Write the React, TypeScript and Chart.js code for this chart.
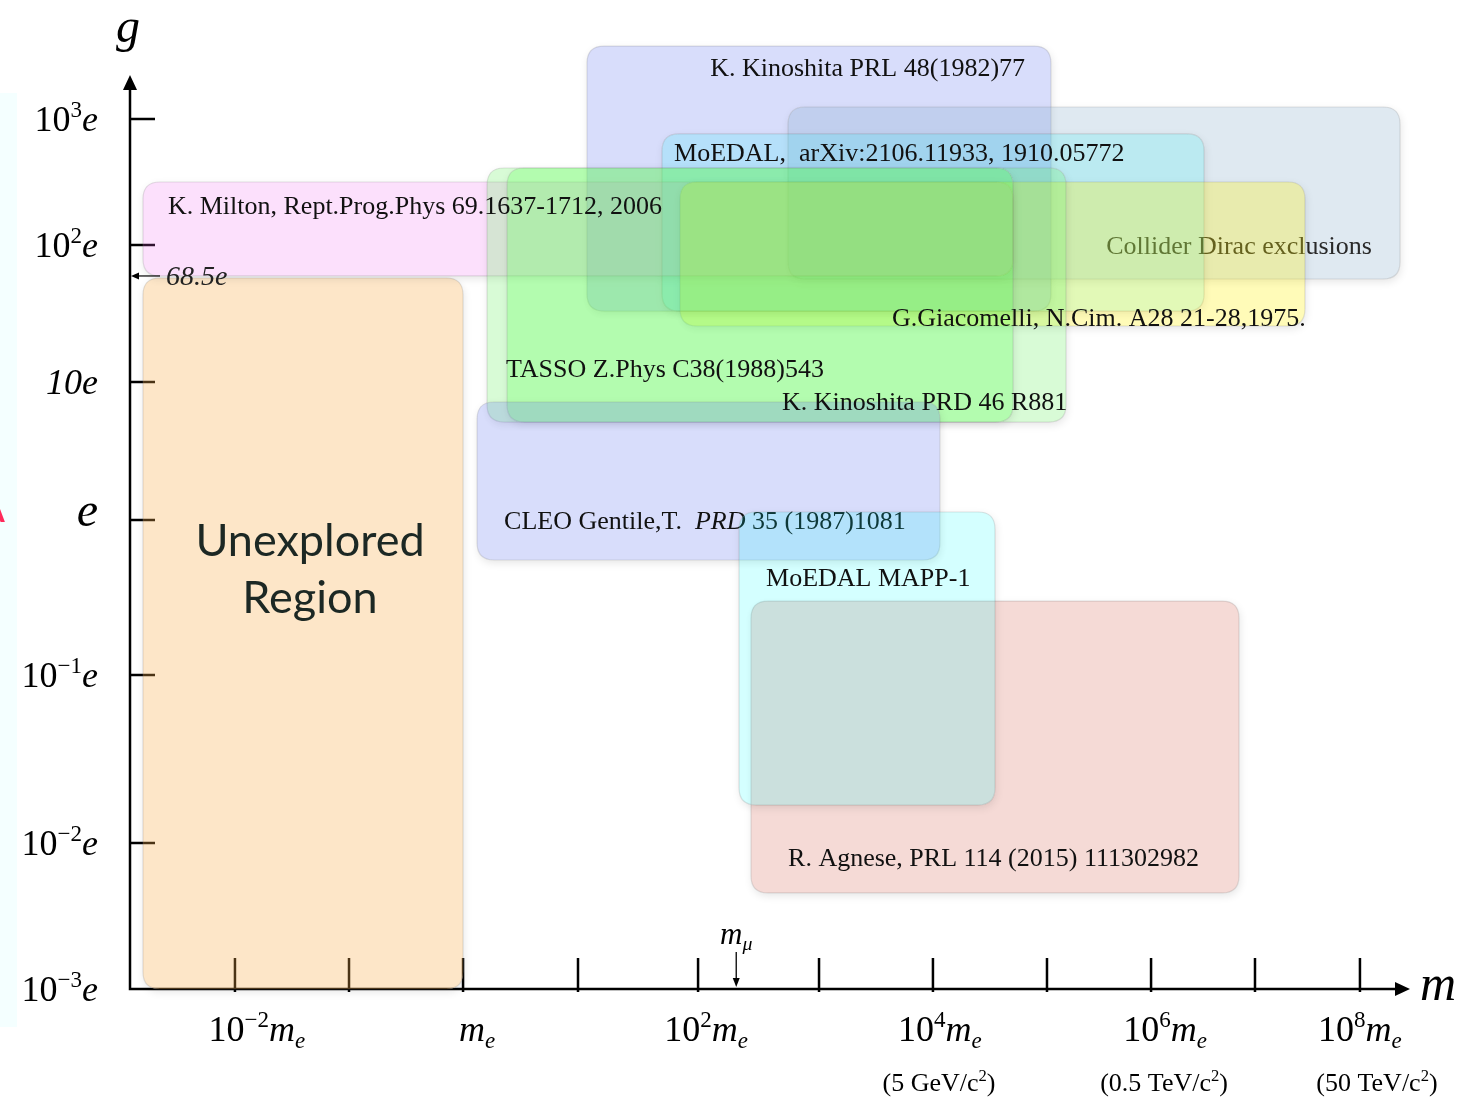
import React, { useEffect, useRef } from 'react';
import { Chart, LinearScale, registerables } from 'chart.js';

// ---------------- data ----------------
// x: log10(m / m_e), y: log10(g / e)
const X_TICK_VALUES = [-2, -1, 0, 1, 2, 3, 4, 5, 6, 7, 8];
const X_LABEL_VALUES = [-2, 0, 2, 4, 6, 8];
const X_LABEL_POS = [-1.807, 0.122, 2.066, 4.061, 6.135, 8.0];
const X_LABELS = ['10^{−2}*m*_{*e*}', '*m*_{*e*}', '10^{2}*m*_{*e*}', '10^{4}*m*_{*e*}', '10^{6}*m*_{*e*}', '10^{8}*m*_{*e*}'];
const X_SUBLABELS = ['', '', '', '(5 GeV/c^{2})', '(0.5 TeV/c^{2})', '(50 TeV/c^{2})'];
const X_SUBLABEL_POS = [-1.807, 0.122, 2.066, 4.053, 6.125, 8.162];

const Y_TICK_VALUES = [3, 2, 1, 0, -1, -2];
const Y_LABEL_VALUES = [3, 2, 1, 0, -1, -2, -3];
const Y_LABELS = ['10^{3}*e*', '10^{2}*e*', '*10e*', '*e*', '10^{−1}*e*', '10^{−2}*e*', '10^{−3}*e*'];

const M_MU = 2.3155; // log10(m_mu / m_e)
const M_MU_LABEL = '*m*_{*μ*}';
const G_MARK = 1.774;
const G_MARK_LABEL = '*68.5e*';

// experiment regions (draw order)
const BOX_NAMES = ['Unexplored', 'Kinoshita PRL', 'Collider', 'MoEDAL arXiv', 'Milton', 'Giacomelli', 'Kinoshita PRD', 'TASSO', 'CLEO', 'Agnese', 'MAPP-1'];
const BOX_X_MIN = [-2.807, 1.075, 2.744, 1.70, -2.807, 1.85, 0.209, 0.383, 0.122, 2.438, 2.339];
const BOX_X_MAX = [0.0, 5.038, 8.381, 6.51, 4.702, 7.476, 5.183, 4.702, 4.061, 6.846, 4.544];
const BOX_Y_MIN = [-3.0, 1.518, 1.752, 1.518, 1.774, 1.409, 0.710, 0.710, -0.258, -2.342, -1.774];
const BOX_Y_MAX = [1.759, 3.579, 3.095, 2.881, 2.5, 2.5, 2.611, 2.611, 0.855, -0.523, 0.058];
const BOX_COLORS = [
  'rgba(248,172,72,0.30)',
  'rgba(100,120,240,0.25)',
  'rgba(128,168,200,0.25)',
  'rgba(0,235,245,0.16)',
  'rgba(240,100,240,0.20)',
  'rgba(255,240,0,0.28)',
  'rgba(100,240,90,0.25)',
  'rgba(70,255,60,0.25)',
  'rgba(100,120,240,0.25)',
  'rgba(215,107,91,0.25)',
  'rgba(0,255,255,0.17)',
];
const LABEL_TEXTS = [
  'Unexplored\nRegion',
  'K. Kinoshita PRL 48(1982)77',
  'Collider Dirac exclusions',
  'MoEDAL,  arXiv:2106.11933, 1910.05772',
  'K. Milton, Rept.Prog.Phys 69.1637-1712, 2006',
  'G.Giacomelli, N.Cim. A28 21-28,1975.',
  'K. Kinoshita PRD 46 R881',
  'TASSO Z.Phys C38(1988)543',
  'CLEO Gentile,T.  *PRD* 35 (1987)1081',
  'R. Agnese, PRL 114 (2015) 111302982',
  'MoEDAL MAPP-1',
];
const LABEL_X = [-1.342, 2.10, 8.114, 1.80, -2.588, 3.64, 2.694, 0.374, 0.357, 2.744, 2.562];
const LABEL_Y = [-0.323, 3.405, 1.993, 2.730, 2.317, 1.474, 0.862, 1.095, -0.006, -2.096, -0.368];
const LABEL_ALIGN = ['center', 'left', 'right', 'left', 'left', 'left', 'left', 'left', 'left', 'left', 'left'];
// labels that sit beneath the boxes drawn after them (others are drawn on top of everything)
const LABELS_UNDER = ['Collider', 'CLEO'];

// schematic axis layout: [value, fraction of axis length]
const X_BREAKS = [[-2.921, 0], [-2, 0.082], [-1, 0.1711], [0, 0.2602], [1, 0.35], [2, 0.4438], [3, 0.5383], [4, 0.6273], [5, 0.7164], [6, 0.7977], [7, 0.8789], [8, 0.9609], [8.476, 1]];
const Y_BREAKS = [[-3, 0], [-2, 0.1597], [-1, 0.3435], [0, 0.5131], [1, 0.6641], [2, 0.814], [3, 0.9519], [3.349, 1]];
const BREAKS: Record<string, number[][]> = { x: X_BREAKS, y: Y_BREAKS };

// ---------------- scale ----------------
function interp(bp: number[][], v: number, from: number, to: number) {
  let i = 0;
  if (v <= bp[0][from]) i = 0;
  else if (v >= bp[bp.length - 1][from]) i = bp.length - 2;
  else {
    while (i < bp.length - 2 && v > bp[i + 1][from]) i++;
  }
  const a = bp[i];
  const b = bp[i + 1];
  return a[to] + ((v - a[from]) * (b[to] - a[to])) / (b[from] - a[from]);
}

class PiecewiseScale extends LinearScale {
  static id = 'piecewise';
  static defaults = {};
  getPixelForValue(value: number) {
    return this.getPixelForDecimal(interp(BREAKS[(this as any).id], value, 0, 1));
  }
  getValueForPixel(pixel: number) {
    return interp(BREAKS[(this as any).id], this.getDecimalForPixel(pixel), 1, 0);
  }
}

Chart.register(...registerables, PiecewiseScale as any);

// ---------------- drawing helpers ----------------
const SERIF = '"Liberation Serif", "Times New Roman", serif';

type Part = { t: string; italic: boolean; mode: 'n' | 'sup' | 'sub' };
function parseRich(s: string): Part[] {
  const parts: Part[] = [];
  let italic = false;
  let mode: Part['mode'] = 'n';
  let buf = '';
  const flush = () => {
    if (buf) {
      parts.push({ t: buf, italic, mode });
      buf = '';
    }
  };
  for (let i = 0; i < s.length; i++) {
    const c = s[i];
    if (c === '*') {
      flush();
      italic = !italic;
    } else if ((c === '^' || c === '_') && s[i + 1] === '{') {
      flush();
      mode = c === '^' ? 'sup' : 'sub';
      i++;
    } else if (c === '}' && mode !== 'n') {
      flush();
      mode = 'n';
    } else buf += c;
  }
  flush();
  return parts;
}

function drawRich(ctx: CanvasRenderingContext2D, s: string, x: number, baseline: number, size: number, align: string, color: string, family = SERIF) {
  const parts = parseRich(s);
  const small = size * 0.64;
  const font = (p: Part) => `${p.italic ? 'italic ' : ''}${p.mode === 'n' ? size : small}px ${family}`;
  let total = 0;
  const widths = parts.map((p) => {
    ctx.font = font(p);
    const w = ctx.measureText(p.t).width;
    total += w;
    return w;
  });
  let cx = align === 'center' ? x - total / 2 : align === 'right' ? x - total : x;
  ctx.fillStyle = color;
  ctx.textAlign = 'left';
  ctx.textBaseline = 'alphabetic';
  parts.forEach((p, i) => {
    ctx.font = font(p);
    const dy = p.mode === 'sup' ? -size * 0.4 : p.mode === 'sub' ? size * 0.2 : 0;
    ctx.fillText(p.t, cx, baseline + dy);
    cx += widths[i];
  });
}

function roundRectPath(ctx: CanvasRenderingContext2D, x0: number, y0: number, x1: number, y1: number, r: number) {
  const l = Math.min(x0, x1), rt = Math.max(x0, x1), t = Math.min(y0, y1), b = Math.max(y0, y1);
  ctx.moveTo(l + r, t);
  ctx.lineTo(rt - r, t);
  ctx.quadraticCurveTo(rt, t, rt, t + r);
  ctx.lineTo(rt, b - r);
  ctx.quadraticCurveTo(rt, b, rt - r, b);
  ctx.lineTo(l + r, b);
  ctx.quadraticCurveTo(l, b, l, b - r);
  ctx.lineTo(l, t + r);
  ctx.quadraticCurveTo(l, t, l + r, t);
  ctx.closePath();
}

function arrowHead(ctx: CanvasRenderingContext2D, tx: number, ty: number, dx: number, dy: number, len: number, half: number) {
  const bx = tx - dx * len, by = ty - dy * len;
  ctx.beginPath();
  ctx.moveTo(tx, ty);
  ctx.lineTo(bx - dy * half, by + dx * half);
  ctx.lineTo(bx + dy * half, by - dx * half);
  ctx.closePath();
  ctx.fill();
}

const diagramPlugin = {
  id: 'diagram',
  afterDraw(chart: any) {
    const { ctx, chartArea: ca, width: W, height: H } = chart;
    const xs = chart.scales.x;
    const ys = chart.scales.y;
    ctx.save();

    // axes
    ctx.strokeStyle = '#000';
    ctx.fillStyle = '#000';
    ctx.lineWidth = 2.5;
    ctx.lineCap = 'butt';
    ctx.beginPath();
    ctx.moveTo(ca.left, ca.bottom + 1.25);
    ctx.lineTo(ca.left, ca.top + 12);
    ctx.moveTo(ca.left - 1.25, ca.bottom);
    ctx.lineTo(ca.right - 12, ca.bottom);
    ctx.stroke();
    arrowHead(ctx, ca.left, ca.top, 0, -1, 15, 7);
    arrowHead(ctx, ca.right, ca.bottom, 1, 0, 15, 7);

    ctx.beginPath();
    Y_TICK_VALUES.forEach((v) => {
      const py = ys.getPixelForValue(v);
      ctx.moveTo(ca.left, py);
      ctx.lineTo(ca.left + 25, py);
    });
    X_TICK_VALUES.forEach((v) => {
      const px = xs.getPixelForValue(v);
      ctx.moveTo(px, ca.bottom + 3);
      ctx.lineTo(px, ca.bottom - 31);
    });
    ctx.stroke();

    // tick labels
    Y_LABEL_VALUES.forEach((v, i) => {
      const py = ys.getPixelForValue(v);
      const big = Y_LABELS[i] === '*e*';
      drawRich(ctx, Y_LABELS[i], ca.left - 32, py + (big ? 6 : 12), big ? 48 : 36, 'right', '#000');
    });
    X_LABEL_VALUES.forEach((v, i) => {
      drawRich(ctx, X_LABELS[i], xs.getPixelForValue(X_LABEL_POS[i]), ca.bottom + 52, 36, 'center', '#000');
      if (X_SUBLABELS[i]) drawRich(ctx, X_SUBLABELS[i], xs.getPixelForValue(X_SUBLABEL_POS[i]), ca.bottom + 102, 26, 'center', '#000');
    });

    // axis titles
    drawRich(ctx, '*g*', ca.left - 2, ca.top - 33, 48, 'center', '#000');
    drawRich(ctx, '*m*', ca.right + 10, ca.bottom + 11, 50, 'left', '#000');

    const drawLabel = (i: number) => {
      const name = BOX_NAMES[i];
      const lx = xs.getPixelForValue(LABEL_X[i]);
      const ly = ys.getPixelForValue(LABEL_Y[i]);
      if (name === 'Unexplored') {
        const lines = LABEL_TEXTS[i].split('\n');
        ctx.font = '45px Lato, "Open Sans", sans-serif';
        ctx.fillStyle = '#1c2824';
        ctx.textAlign = 'center';
        ctx.textBaseline = 'middle';
        lines.forEach((ln, k) => ctx.fillText(ln, lx, ly + (k - (lines.length - 1) / 2) * 57));
      } else {
        const color = name === 'Collider' ? '#2a2a2a' : '#111';
        drawRich(ctx, LABEL_TEXTS[i], lx, ly + 8.5, 26, LABEL_ALIGN[i], color);
      }
    };

    // boxes
    BOX_NAMES.forEach((name, i) => {
      const x0 = xs.getPixelForValue(BOX_X_MIN[i]);
      const x1 = xs.getPixelForValue(BOX_X_MAX[i]);
      const y0 = ys.getPixelForValue(BOX_Y_MIN[i]);
      const y1 = ys.getPixelForValue(BOX_Y_MAX[i]);
      const R = 17;
      // soft shadow outside the box only
      ctx.save();
      ctx.beginPath();
      ctx.rect(0, 0, W, H);
      roundRectPath(ctx, x0, y0, x1, y1, R);
      ctx.clip('evenodd');
      ctx.shadowColor = 'rgba(0,0,0,0.10)';
      ctx.shadowBlur = 8;
      ctx.shadowOffsetX = 1;
      ctx.shadowOffsetY = 3;
      ctx.beginPath();
      roundRectPath(ctx, x0, y0, x1, y1, R);
      ctx.fillStyle = '#ffffff';
      ctx.fill();
      ctx.restore();

      ctx.beginPath();
      roundRectPath(ctx, x0, y0, x1, y1, R);
      ctx.fillStyle = BOX_COLORS[i];
      ctx.fill();
      ctx.strokeStyle = 'rgba(110,110,110,0.2)';
      ctx.lineWidth = 1.2;
      ctx.stroke();

      if (LABELS_UNDER.includes(name)) drawLabel(i);
    });
    BOX_NAMES.forEach((name, i) => {
      if (!LABELS_UNDER.includes(name)) drawLabel(i);
    });

    // 68.5e marker
    {
      const py = ys.getPixelForValue(G_MARK);
      ctx.strokeStyle = '#000';
      ctx.fillStyle = '#000';
      ctx.lineWidth = 1.2;
      ctx.beginPath();
      ctx.moveTo(ca.left + 30, py);
      ctx.lineTo(ca.left + 6, py);
      ctx.stroke();
      arrowHead(ctx, ca.left + 1, py, -1, 0, 8, 3.5);
      drawRich(ctx, G_MARK_LABEL, ca.left + 36, py + 9, 28, 'left', '#222');
    }

    // m_mu marker
    {
      const px = xs.getPixelForValue(M_MU);
      ctx.strokeStyle = '#000';
      ctx.fillStyle = '#000';
      ctx.lineWidth = 1.3;
      ctx.beginPath();
      ctx.moveTo(px, ca.bottom - 37);
      ctx.lineTo(px, ca.bottom - 8);
      ctx.stroke();
      arrowHead(ctx, px, ca.bottom - 2, 0, 1, 9, 3.5);
      drawRich(ctx, M_MU_LABEL, px, ca.bottom - 45, 31, 'center', '#000');
    }

    // left page strip (cropped slide edge)
    ctx.fillStyle = '#f4ffff';
    ctx.fillRect(0, 93, 17, 934);
    ctx.fillStyle = '#ff2a5a';
    ctx.font = 'bold 30px "Liberation Sans", Arial, sans-serif';
    ctx.textAlign = 'left';
    ctx.textBaseline = 'alphabetic';
    ctx.fillText('A', -16, 522);

    ctx.restore();
  },
};

export default function App() {
  const ref = useRef<HTMLCanvasElement>(null);
  useEffect(() => {
    const chart = new Chart(ref.current as HTMLCanvasElement, {
      type: 'scatter',
      data: { datasets: [] },
      options: {
        animation: false,
        responsive: false,
        maintainAspectRatio: false,
        events: [],
        layout: { padding: { left: 130, right: 50, top: 75, bottom: 111 } },
        plugins: { legend: { display: false }, tooltip: { enabled: false }, title: { display: false } },
        scales: {
          x: { type: 'piecewise' as any, min: X_BREAKS[0][0], max: X_BREAKS[X_BREAKS.length - 1][0], display: false },
          y: { type: 'piecewise' as any, min: Y_BREAKS[0][0], max: Y_BREAKS[Y_BREAKS.length - 1][0], display: false },
        },
      },
      plugins: [diagramPlugin],
    });
    return () => chart.destroy();
  }, []);
  return (
    <div style={{ position: 'fixed', left: 0, top: 0, width: 1460, height: 1100, background: '#fff' }}>
      <canvas ref={ref} width={1460} height={1100} style={{ display: 'block', width: 1460, height: 1100 }} />
    </div>
  );
}
